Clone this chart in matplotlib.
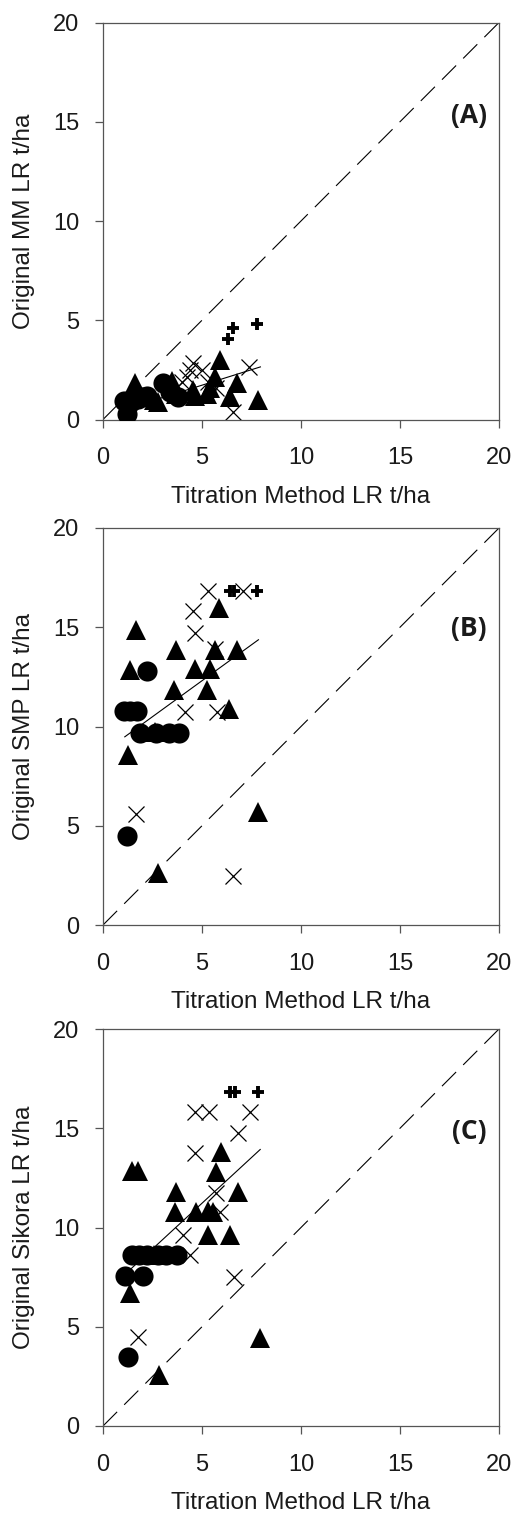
import matplotlib
matplotlib.use("Agg")
import matplotlib.pyplot as plt

# ---------------- data ----------------
# Panel A : Original MM LR
circ_x_A = [1.05, 1.2, 1.4, 1.75, 1.95, 2.2, 3.05, 3.4, 3.8]
circ_y_A = [0.95, 0.3, 0.9, 1.05, 1.15, 1.2, 1.85, 1.4, 1.15]
tri_x_A = [1.35, 1.63, 1.8, 2.6, 2.8, 3.5, 3.7, 4.57, 4.66, 5.25, 5.4, 5.67, 5.92, 6.42, 6.76, 7.85]
tri_y_A = [1.1, 1.82, 1.3, 1.0, 0.9, 1.95, 1.3, 1.5, 1.2, 1.3, 1.6, 2.15, 3.0, 1.14, 1.82, 0.97]
cross_x_A = [4.0, 4.24, 4.4, 4.57, 5.0, 5.3, 5.7, 6.59, 7.35]
cross_y_A = [1.9, 2.15, 2.5, 2.83, 2.5, 1.9, 1.6, 0.38, 2.65]
plus_x_A = [6.3, 6.57, 7.78]
plus_y_A = [4.08, 4.63, 4.79]
trend_x_A = [1.1, 7.95]
trend_y_A = [0.51, 2.65]

# Panel B : Original SMP LR
circ_x_B = [1.2, 1.05, 1.38, 1.72, 2.2, 1.88, 2.7, 3.35, 3.85]
circ_y_B = [4.5, 10.8, 10.8, 10.8, 12.8, 9.65, 9.65, 9.65, 9.65]
tri_x_B = [1.26, 1.36, 1.66, 2.64, 2.78, 3.58, 3.68, 4.64, 5.24, 5.39, 5.64, 5.84, 6.35, 6.75, 7.83]
tri_y_B = [8.56, 12.85, 14.86, 9.7, 2.6, 11.84, 13.85, 12.9, 11.84, 12.9, 13.85, 15.97, 10.88, 13.85, 5.7]
cross_x_B = [5.28, 7.07, 4.56, 4.64, 5.65, 4.14, 5.74, 1.66, 6.55]
cross_y_B = [16.85, 16.85, 15.8, 14.7, 13.9, 10.75, 10.75, 5.6, 2.47]
plus_x_B = [6.4, 6.6, 7.76]
plus_y_B = [16.85, 16.85, 16.85]
trend_x_B = [1.1, 7.85]
trend_y_B = [9.48, 14.37]

# Panel C : Original Sikora LR
circ_x_C = [1.24, 1.13, 2.0, 1.45, 1.8, 2.2, 2.8, 3.2, 3.75]
circ_y_C = [3.49, 7.55, 7.55, 8.6, 8.6, 8.6, 8.6, 8.6, 8.6]
tri_x_C = [1.36, 1.44, 1.78, 2.6, 2.84, 3.63, 3.71, 4.72, 5.29, 5.31, 5.54, 5.72, 5.94, 6.39, 6.82, 7.94]
tri_y_C = [6.68, 12.86, 12.86, 8.6, 2.57, 10.8, 11.8, 10.8, 10.85, 9.62, 10.8, 12.81, 13.82, 9.62, 11.8, 4.42]
cross_x_C = [4.64, 5.34, 7.44, 6.82, 4.64, 5.72, 5.89, 4.03, 1.75, 6.61, 4.38]
cross_y_C = [15.83, 15.83, 15.83, 14.75, 13.74, 11.72, 10.8, 9.62, 4.47, 7.52, 8.6]
plus_x_C = [6.41, 6.67, 7.83]
plus_y_C = [16.85, 16.85, 16.85]
trend_x_C = [1.1, 7.94]
trend_y_C = [7.63, 13.93]

ylabels = ["Original MM LR t/ha", "Original SMP LR t/ha", "Original Sikora LR t/ha"]
xlabel = "Titration Method LR t/ha"
panel_tags = ["(A)", "(B)", "(C)"]
ticks = [0, 5, 10, 15, 20]

panels = [
    (circ_x_A, circ_y_A, tri_x_A, tri_y_A, cross_x_A, cross_y_A, plus_x_A, plus_y_A, trend_x_A, trend_y_A),
    (circ_x_B, circ_y_B, tri_x_B, tri_y_B, cross_x_B, cross_y_B, plus_x_B, plus_y_B, trend_x_B, trend_y_B),
    (circ_x_C, circ_y_C, tri_x_C, tri_y_C, cross_x_C, cross_y_C, plus_x_C, plus_y_C, trend_x_C, trend_y_C),
]

# ---------------- figure ----------------
plt.rcParams['font.family'] = ['Liberation Sans', 'DejaVu Sans']
W, H = 514, 1516
fig = plt.figure(figsize=(W / 100, H / 100), dpi=100)

ax_left = 103 / W
ax_w = 396 / W
ax_h = 397 / H
bottoms_px = [419.5, 925, 1426]
tag_y = [0.765, 0.748, 0.742]
spine_col = '#555555'

for i, (cx, cy, tx, ty, xx, xy, px, py, lx, ly) in enumerate(panels):
    ax = fig.add_axes([ax_left, 1 - bottoms_px[i] / H, ax_w, ax_h])
    ax.set_xlim(0, 20)
    ax.set_ylim(0, 20)
    # 1:1 dashed line
    ax.plot([0, 20], [0, 20], color='black', lw=0.8, linestyle=(0, (18, 9)), zorder=1)
    # trend line
    ax.plot(lx, ly, color='black', lw=0.8, zorder=1.5)
    ax.plot(xx, xy, linestyle='none', marker='x', ms=12, mew=0.9, color='black', zorder=2)
    ax.plot(px, py, linestyle='none', marker='+', ms=9, mew=2.8, color='black', zorder=2.5)
    ax.plot(tx, ty, linestyle='none', marker='^', ms=14, color='black', mec='black', mew=0, zorder=3)
    ax.plot(cx, cy, linestyle='none', marker='o', ms=14.5, color='black', mec='black', mew=0, zorder=4)

    ax.set_xticks(ticks)
    ax.set_yticks(ticks)
    ax.tick_params(axis='both', direction='out', length=6, width=0.9, color=spine_col,
                   labelsize=17, labelcolor='#1a1a1a')
    ax.tick_params(axis='y', pad=11)
    ax.tick_params(axis='x', pad=14)
    for s in ax.spines.values():
        s.set_color(spine_col)
        s.set_linewidth(0.9)

    ax.set_xlabel(xlabel, fontsize=17.5, color='#1a1a1a')
    ax.xaxis.set_label_coords(0.5, -0.195)
    ax.xaxis.label.set_va('center')
    ax.set_ylabel(ylabels[i], fontsize=17.5, color='#1a1a1a')
    ax.yaxis.set_label_coords(-0.2, 0.5)
    ax.yaxis.label.set_va('center')

    ax.text(0.924, tag_y[i], panel_tags[i], transform=ax.transAxes, ha='center', va='center',
            fontsize=19, fontweight='bold', family=['Open Sans', 'DejaVu Sans'], color='#1a1a1a')

fig.savefig('out.png', dpi=100)
